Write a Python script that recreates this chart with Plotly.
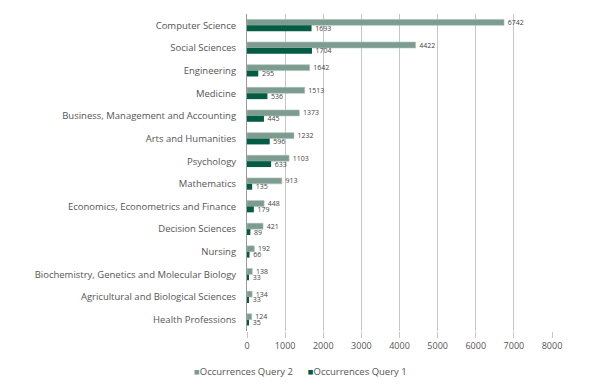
import plotly.graph_objects as go

categories = ["Computer Science", "Social Sciences", "Engineering", "Medicine",
              "Business, Management and Accounting", "Arts and Humanities", "Psychology",
              "Mathematics", "Economics, Econometrics and Finance", "Decision Sciences",
              "Nursing", "Biochemistry, Genetics and Molecular Biology",
              "Agricultural and Biological Sciences", "Health Professions"]
query2 = [6742, 4422, 1642, 1513, 1373, 1232, 1103, 913, 448, 421, 192, 138, 134, 124]
query1 = [1693, 1704, 295, 536, 445, 596, 633, 135, 179, 89, 66, 33, 33, 35]
x_ticks = [0, 1000, 2000, 3000, 4000, 5000, 6000, 7000, 8000]
series_names = ["Occurrences Query 2", "Occurrences Query 1"]
series_colors = ["#7b9c8f", "#045c45"]

fig = go.Figure()
fig.add_trace(go.Bar(
    y=categories, x=query2, orientation="h", name=series_names[0],
    marker=dict(color=series_colors[0], line=dict(color="#a9c0b6", width=0.6)),
    text=query2, texttemplate="  %{x}", textposition="outside", cliponaxis=False,
    constraintext="none",
    textfont=dict(size=7, color="#444444"), showlegend=False,
))
fig.add_trace(go.Bar(
    y=categories, x=query1, orientation="h", name=series_names[1],
    marker=dict(color=series_colors[1], line=dict(width=0)),
    text=query1, texttemplate="  %{x}", textposition="outside", cliponaxis=False,
    constraintext="none",
    textfont=dict(size=7, color="#444444"), showlegend=False,
))

legend_html = "&nbsp;&nbsp;&nbsp;&nbsp;&nbsp;&nbsp;".join(
    f"<span style='color:{c}'>■</span>{n}" for n, c in zip(series_names, series_colors)
)
fig.add_annotation(text=legend_html, xref="paper", yref="paper",
                   x=(300 - 247) / (552 - 247), y=-(371 - 331) / (331 - 14),
                   xanchor="center", yanchor="middle", showarrow=False,
                   font=dict(size=9.5, color="#555555"))

fig.update_layout(
    width=600, height=389,
    margin=dict(l=247, r=48, t=14, b=58, autoexpand=False),
    paper_bgcolor="white", plot_bgcolor="white",
    barmode="group", bargap=0.48, bargroupgap=0.0,
    font=dict(family="Open Sans, Noto Sans, sans-serif", size=10, color="#555555"),
    showlegend=False,
    xaxis=dict(range=[0, 8000], tickvals=x_ticks, ticktext=[str(v) for v in x_ticks],
               showgrid=True, gridcolor="#c6c6c6", gridwidth=1,
               zeroline=False, ticks="outside", ticklen=6, tickcolor="#c6c6c6",
               tickfont=dict(size=9, color="#555555"), automargin=False,
               showline=False),
    yaxis=dict(autorange="reversed", showgrid=False, zeroline=False,
               ticks="", ticklen=0, tickfont=dict(size=9.5, color="#555555"),
               ticklabelstandoff=8, automargin=False,
               showline=True, linecolor="#9a9a9a", linewidth=1),
)

fig.write_html("out.html", config={"displayModeBar": False},
               post_script="document.body.style.margin='0';document.body.style.overflow='hidden';")
